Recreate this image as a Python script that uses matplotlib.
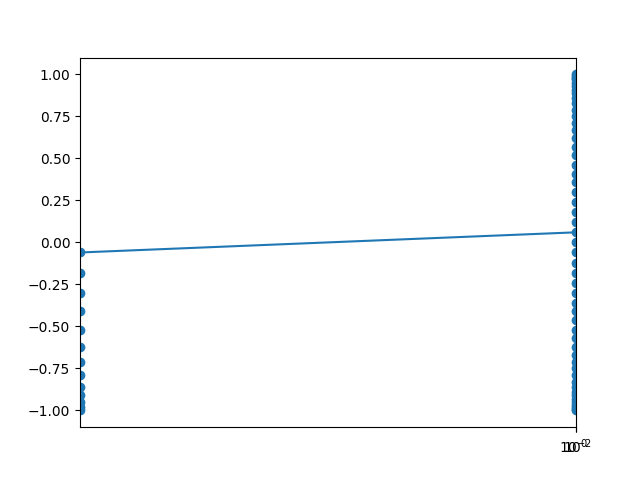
import matplotlib
matplotlib.use("Agg")
import matplotlib.pyplot as plt

# left group (at x min)
left_x = 0.0
left_y = [-0.06, -0.18, -0.30, -0.41, -0.52, -0.62, -0.71, -0.79, -0.86, -0.91, -0.95, -0.98, -1.0]
# right group (at x max)
right_x = 1.0
right_y = [1.0, 0.99, 0.97, 0.93, 0.89, 0.83, 0.75, 0.67, 0.57, 0.46, 0.36, 0.24, 0.12, 0.0,
           0.98, 0.95, 0.91, 0.86, 0.79, 0.71, 0.62, 0.52, 0.41, 0.30, 0.18, 0.06,
           -0.06, -0.18, -0.30, -0.41, -0.52, -0.62, -0.71, -0.79, -0.86, -0.91, -0.95, -0.98, -1.0,
           -0.12, -0.24, -0.36, -0.46, -0.57, -0.67, -0.75, -0.83, -0.89, -0.93, -0.97, -0.99]
# connecting line
line_x = [0.0, 1.0]
line_y = [-0.06, 0.06]
tick_pos = [0.9999, 1.0]
tick_labels = ['$10^{-2}$', '$10^{0}$']

fig, ax = plt.subplots(figsize=(6.4, 4.8), dpi=100)
ax.plot([left_x] * len(left_y), left_y, 'o', color='C0')
ax.plot([right_x] * len(right_y), right_y, 'o', color='C0')
ax.plot(line_x, line_y, '-', color='C0')
ax.set_xlim(0.0, 1.0)
ax.set_ylim(-1.1, 1.1)
ax.set_xticks(tick_pos)
ax.set_xticklabels(tick_labels)
fig.savefig('out.png')
